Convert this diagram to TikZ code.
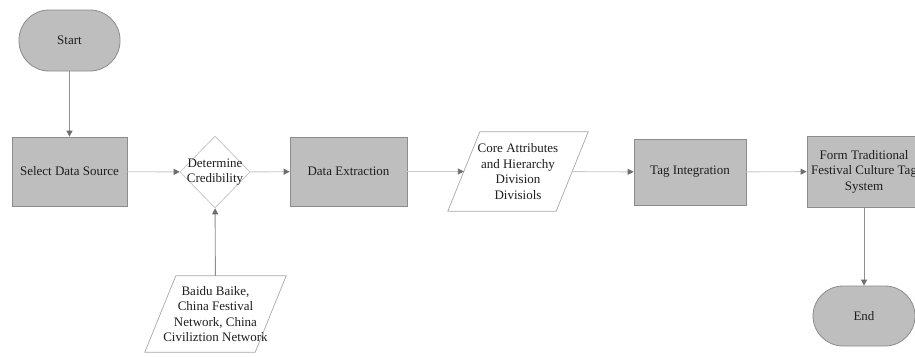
\documentclass[tikz,border=0pt]{standalone}
\usepackage{fontspec}
\setmainfont{Liberation Serif}
\usetikzlibrary{shapes.geometric,arrows.meta}
\definecolor{boxfill}{HTML}{BEBEBE}
\definecolor{boxline}{HTML}{8C8C8C}
\definecolor{hline}{HTML}{C8C8C8}
\definecolor{vline}{HTML}{8E8E8E}
\definecolor{tipcol}{HTML}{6E6E6E}
\definecolor{paraline}{HTML}{A8A8A8}
\definecolor{txt}{HTML}{1E1E1E}
\tikzset{
  every node/.style={font=\fontsize{13}{15.5}\selectfont, text=txt, align=center},
  procbox/.style={draw=boxline, fill=boxfill, line width=0.8pt, rectangle, inner sep=0pt},
  termbox/.style={draw=boxline, fill=boxfill, line width=0.8pt, rectangle, rounded corners=30pt, inner sep=0pt},
  decbox/.style={draw=hline, line width=0.8pt, diamond, inner sep=0pt, minimum width=70pt, minimum height=72pt},
  parabox/.style={rectangle, inner sep=0pt},
  paraedge/.style={draw=paraline, line width=0.7pt, line join=miter},
  hconn/.style={draw=hline, line width=0.9pt, -{Triangle[length=6pt,width=6pt,fill=tipcol,color=tipcol]}},
  vconn/.style={draw=vline, line width=0.9pt, -{Triangle[length=6pt,width=6pt,fill=tipcol,color=tipcol]}},
}
\begin{document}
\begin{tikzpicture}[x=1pt,y=-1pt]
\useasboundingbox (0,0) rectangle (915,356);
\fill[white] (0,0) rectangle (915,356);
\clip (0,0) rectangle (915,356);
% nodes
\node[termbox, minimum width=101pt, minimum height=61pt] (start) at (69.5,40.5) {Start};
\node[procbox, minimum width=115pt, minimum height=69pt] (sel) at (69.5,171.5) {Select Data Source};
\node[decbox] (det) at (215,172) {\makebox[0pt]{\begin{tabular}{@{}c@{}}Determine\\Credibility\end{tabular}}};
\node[procbox, minimum width=117pt, minimum height=69pt] (ext) at (348.5,171.5) {Data Extraction};
\node[parabox, minimum width=108pt, minimum height=79pt] (core) at (518,171.5) {Core Attributes\\and Hierarchy\\Division\\Divisiols};
\draw[paraedge] ([xshift=16pt]core.north west) -- ([xshift=16pt]core.north east) -- ([xshift=-16pt]core.south east) -- ([xshift=-16pt]core.south west) -- cycle;
\node[procbox, minimum width=112pt, minimum height=66pt] (tag) at (690,172) {Tag Integration};
\node[procbox, minimum width=114pt, minimum height=71pt] (form) at (864,171.5) {Form Traditional\\Festival Culture Tag\\System};
\node[termbox, minimum width=102pt, minimum height=60pt] (end) at (864,316) {End};
\node[parabox, minimum width=110pt, minimum height=76pt] (src) at (215.5,314) {Baidu Baike,\\China Festival\\Network, China\\Civiliztion Network};
\draw[paraedge] ([xshift=15.5pt]src.north west) -- ([xshift=15.5pt]src.north east) -- ([xshift=-15.5pt]src.south east) -- ([xshift=-15.5pt]src.south west) -- cycle;
% connectors
\draw[vconn] (start) -- (sel);
\draw[hconn] (sel) -- (det);
\draw[hconn] (det) -- (ext);
\draw[hconn] (ext) -- (core);
\draw[hconn] (core) -- (tag);
\draw[hconn] (tag) -- (form);
\draw[vconn] (form) -- (end);
\draw[vconn] (src) -- (det);
\end{tikzpicture}
\end{document}
